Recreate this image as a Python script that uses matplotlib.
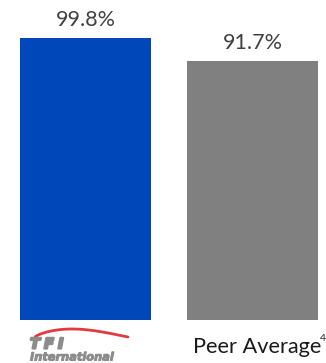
import matplotlib.pyplot as plt
import matplotlib.patheffects as pe
import numpy as np

plt.rcParams['font.family'] = ['Lato', 'DejaVu Sans']

categories = ['TFI', 'Peer Average']
values = [99.8, 91.7]
value_labels = ['99.8%', '91.7%']
colors = ['#0047BA', '#808080']

W, H = 326, 363
fig = plt.figure(figsize=(W / 100, H / 100), dpi=100)
fig.patch.set_facecolor('white')

# bars sit on a baseline 43 px above the bottom edge
ax = fig.add_axes([0, 43 / H, 1, 282 / H])
x = np.arange(len(categories))
bars = ax.bar(x, values, width=0.784, color=colors)
ax.set_xlim(-0.512, 1.440)
ax.set_ylim(0, 99.8)
ax.axis('off')

for bar, lab in zip(bars, value_labels):
    ax.annotate(lab, (bar.get_x() + bar.get_width() / 2, bar.get_height()),
                xytext=(0, 6), textcoords='offset points',
                ha='center', va='bottom', fontsize=15.5, color='#404040',
                annotation_clip=False)

# peer label with footnote marker
fig.text(193 / W, 1 - 353 / H, 'Peer Average', ha='left', va='baseline',
         fontsize=15.7, color='#1a1a1a')
fig.text(320 / W, 1 - 341 / H, '4', ha='left', va='baseline',
         fontsize=7.5, color='#1a1a1a')

# TFI International wordmark
t = np.linspace(0, 1, 60)
arc_x = (35 + 93 * t) / W
arc_y = 1 - (337 - 8 * np.sin(np.pi * t ** 0.75)) / H
fig.add_artist(plt.Line2D(arc_x, arc_y, color='#E23A3F', lw=2.0,
                          solid_capstyle='round'))
logo_grey = '#8c8c8c'
logo_font = dict(family='DejaVu Sans', fontweight='bold', style='oblique',
                 color=logo_grey)
for ch, px in zip('TFI', [30, 44, 58]):
    fig.text(px / W, 1 - 348.5 / H, ch, ha='left', va='baseline',
             fontsize=10.5, path_effects=[pe.withStroke(linewidth=1.6, foreground=logo_grey)],
             **logo_font)
fig.text(30 / W, 1 - 360.5 / H, 'International', ha='left', va='baseline',
         fontsize=8.2, path_effects=[pe.withStroke(linewidth=0.7, foreground=logo_grey)],
         **logo_font)

fig.savefig('out.png', dpi=100)
